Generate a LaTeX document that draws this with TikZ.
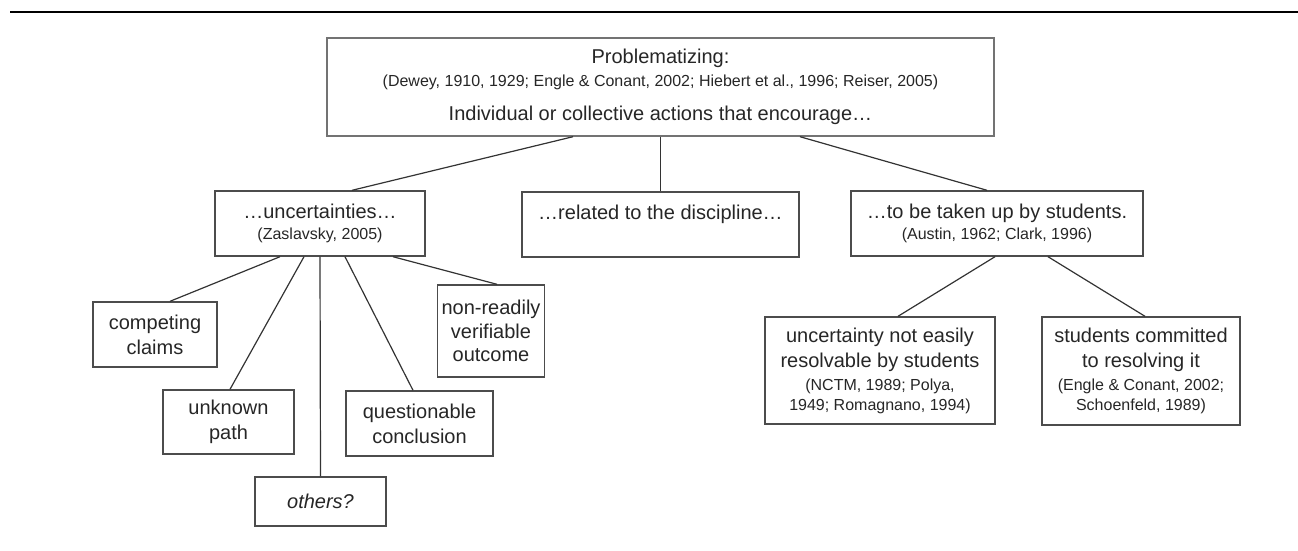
\documentclass[tikz,border=0pt]{standalone}
\usepackage{fontspec}
\setmainfont{Liberation Sans}
\usetikzlibrary{calc}

\newcommand{\reftext}{\fontsize{16}{20}\selectfont}

\begin{document}
\begin{tikzpicture}[x=1pt, y=-1pt,
    box/.style={draw=black!70, line width=1.4pt, align=center, inner sep=4pt,
        text=black!85, font=\fontsize{20}{25}\selectfont},
    link/.style={draw=black!80, line width=1.2pt}]

\useasboundingbox (0,0) rectangle (1298,550);

% Rule across the top
\draw[line width=2.2pt] (10,12) -- (1298,12);

% Top box
\node[box, draw=black!55, minimum width=667, minimum height=98] (prob) at (660.5,87)
    {Problematizing:\\[-2pt]
     {\reftext (Dewey, 1910, 1929; Engle \& Conant, 2002; Hiebert et al., 1996; Reiser, 2005)}\\[9pt]
     Individual or collective actions that encourage…};

% Second level
\node[box, minimum width=210, minimum height=65] (unc) at (320,223.5)
    {…uncertainties…\\[-4pt]{\reftext (Zaslavsky, 2005)}};
\node[box, minimum width=277, minimum height=65, text height=23pt, text depth=34pt] (disc) at (660.5,224.5)
    {…related to the discipline…};
\node[box, minimum width=292, minimum height=65] (stud) at (997,223.5)
    {…to be taken up by students.\\[-4pt]{\reftext (Austin, 1962; Clark, 1996)}};

% Kinds of uncertainties
\node[box, minimum width=124, minimum height=65] (comp) at (155,334.5) {competing\\claims};
\node[box, minimum width=131, minimum height=64] (unk) at (228.5,422) {unknown\\path};
\node[box, minimum width=131, minimum height=49] (oth) at (320.5,501.5) {\textit{others?}};
\node[box, minimum width=147, minimum height=65] (quest) at (419.5,423.5) {questionable\\conclusion};
\node[box, minimum width=100, minimum height=92] (nonr) at (491,331) {non-readily\\[-1pt]verifiable\\[-2pt]outcome};

% Taken up by students
\node[box, minimum width=230, minimum height=107] (unres) at (880,370.5)
    {uncertainty not easily\\resolvable by students\\[-2pt]
     {\reftext (NCTM, 1989; Polya,}\\[-5pt]{\reftext 1949; Romagnano, 1994)}};
\node[box, minimum width=198, minimum height=108] (comm) at (1141,371)
    {students committed\\to resolving it\\[-2pt]
     {\reftext (Engle \& Conant, 2002;}\\[-5pt]{\reftext Schoenfeld, 1989)}};

% Links from the top box
\draw[link] ([xshift=-87.5]prob.south) -- ([xshift=32]unc.north);
\draw[link] (prob.south) -- (disc.north);
\draw[link] ([xshift=139.5]prob.south) -- ([xshift=-10]stud.north);

% Links below
\foreach \a/\b/\c in {-40/comp/15, -16/unk/1.5, 0/oth/0, 25/quest/-6.5, 73/nonr/6}
    \draw[link] ([xshift=\a]unc.south) -- ([xshift=\c]\b.north);
\foreach \a/\b/\c in {-2/unres/18, 51/comm/4}
    \draw[link] ([xshift=\a]stud.south) -- ([xshift=\c]\b.north);

\end{tikzpicture}
\end{document}
